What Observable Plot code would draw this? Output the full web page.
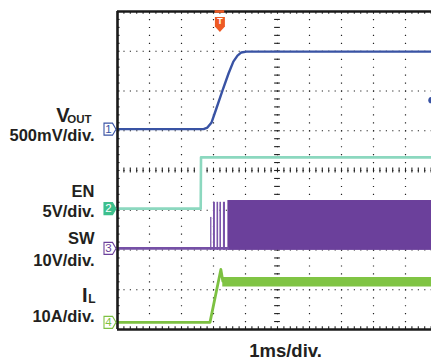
<!DOCTYPE html>
<html><head><meta charset="utf-8">
<script src="https://cdn.jsdelivr.net/npm/d3@7"></script>
<script src="https://cdn.jsdelivr.net/npm/@observablehq/plot@0.6"></script>
<style>
html,body{margin:0;padding:0;background:#fff}
#chart svg{display:block}
</style>
</head><body><div id="chart"></div>
<script>
// Time in ms (1 ms/div, screen centre = 0), amplitude in screen divisions (0 = bottom, 8 = top)
const voutTime = [-5, -2.31, -2.19, -2.06, -1.91, -1.72, -1.53, -1.38, -1.25, -1.13, -0.97, 4.8125];
const voutDiv  = [5.04, 5.04, 5.08, 5.21, 5.56, 6.01, 6.44, 6.74, 6.89, 6.97, 6.99, 6.99];

const enTime = [-5, -2.40, -2.39, 4.8125];
const enDiv  = [3.04, 3.04, 4.33, 4.33];

const swLowTime = [-5, -1.55];
const swLowDiv  = [2.04, 2.04];
const swSpikeStart = [-2.09, -2.00, -1.89, -1.80, -1.69];
const swSpikeEnd   = [-2.05, -1.94, -1.84, -1.75, -1.625];
const swSpikeTop   = [2.82, 3.20, 3.20, 3.20, 3.20];
const swBurstStart = [-1.55];
const swBurstEnd   = [4.8125];
const swBurstLow   = [1.99];
const swBurstHigh  = [3.245];

const ilTime = [-5, -2.11, -1.77, -1.71];
const ilDiv  = [0.18, 0.18, 1.51, 1.22];
const ilBandTime = [-1.71, 4.8125];
const ilBandLow  = [1.07, 1.07];
const ilBandHigh = [1.31, 1.31];

const chanNames  = ["1", "2", "3", "4"];
const chanLevels = [5.04, 3.04, 2.04, 0.18];
const chanColors = ["#3953a4", "#3dbf8d", "#6b409b", "#7dc142"];
const chanFilled = [false, true, false, false];

const triggerTime = [-1.80];
const ch1TrigLevel = [5.77];

const labelText   = ["500mV/div.", "EN", "5V/div.", "SW", "10V/div.", "10A/div."];
const labelLevel  = [4.87, 3.46, 2.96, 2.29, 1.74, 0.32];
const voutMain = ["V"],   voutMainLevel = [5.37];
const voutSub  = ["OUT"], voutSubLevel  = [5.30];
const ilMain   = ["I"],   ilMainLevel   = [0.86];
const ilSub    = ["L"],   ilSubLevel    = [0.76];
const timebaseText = ["1ms/div."];

const gridX = [-4, -3, -2, -1, 1, 2, 3, 4];
const gridY = [1, 2, 3, 5, 6, 7];
const minorX = d3.range(-5, 4.82, 0.2);
const minorY = d3.range(0, 8.01, 0.2);

const rows = (a, b, ka, kb) => a.map((v, i) => ({[ka]: v, [kb]: b[i]}));

const chanSymbol = {draw(ctx) {
  ctx.moveTo(-6.5, -6); ctx.lineTo(2, -6); ctx.lineTo(5.5, 0);
  ctx.lineTo(2, 6); ctx.lineTo(-6.5, 6); ctx.closePath();
}};
const trigSymbol = {draw(ctx) {
  ctx.moveTo(-5, -6.5); ctx.lineTo(5, -6.5); ctx.lineTo(5, 3);
  ctx.lineTo(0, 8.5); ctx.lineTo(-5, 3); ctx.closePath();
}};

const chans = chanNames.map((n, i) => ({n, v: chanLevels[i], c: chanColors[i], f: chanFilled[i]}));
const font = "'Liberation Sans', Arial, Helvetica, sans-serif";
const ink = "#231f20";
const lab = (arr, lev, dx, size) => Plot.text(arr.map((t, i) => ({t, v: lev[i]})),
  {x: () => -5, y: "v", dx, text: "t", textAnchor: "end", fontSize: size, fontWeight: "bold", fill: ink});

const plot = Plot.plot({
  width: 431, height: 363,
  marginLeft: 117, marginRight: 0, marginTop: 11, marginBottom: 34,
  x: {domain: [-5, 4.8125], axis: null},
  y: {domain: [0, 8], axis: null},
  style: {fontFamily: font, background: "#fff", overflow: "visible"},
  marks: [
    // dotted graticule
    Plot.ruleX(gridX, {stroke: "#222", strokeWidth: 1.2, strokeDasharray: "1.2 6.75"}),
    Plot.ruleY(gridY, {stroke: "#222", strokeWidth: 1.2, strokeDasharray: "1.2 5.2"}),
    Plot.ruleX([0], {stroke: "#222", strokeWidth: 1.2, strokeDasharray: "1.2 6.75"}),
    Plot.ruleY([4], {stroke: "#222", strokeWidth: 1.2, strokeDasharray: "1.2 5.2"}),
    // centre-line minor ticks
    Plot.ruleX(minorX, {x: d => d, y1: 3.94, y2: 4.06, stroke: "#222", strokeWidth: 1.1}),
    Plot.ruleY(minorY, {y: d => d, x1: -0.09, x2: 0.09, stroke: "#222", strokeWidth: 1.1}),
    // border minor ticks
    Plot.ruleX(minorX, {x: d => d, y1: 8, y2: 7.93, stroke: "#222", strokeWidth: 1.1}),
    Plot.ruleX(minorX, {x: d => d, y1: 0, y2: 0.07, stroke: "#222", strokeWidth: 1.1}),
    Plot.ruleY(minorY, {y: d => d, x1: -5, x2: -4.92, stroke: "#222", strokeWidth: 1.1}),

    // SW burst
    Plot.rect(swBurstStart.map((s, i) => ({x1: s, x2: swBurstEnd[i], y1: swBurstLow[i], y2: swBurstHigh[i]})),
      {x1: "x1", x2: "x2", y1: "y1", y2: "y2", fill: "#6b409b"}),
    Plot.rect(swSpikeStart.map((s, i) => ({x1: s, x2: swSpikeEnd[i], y1: swBurstLow[0], y2: swSpikeTop[i]})),
      {x1: "x1", x2: "x2", y1: "y1", y2: "y2", fill: "#7a55aa"}),
    Plot.line(rows(swLowTime, swLowDiv, "t", "v"), {x: "t", y: "v", stroke: "#7651a6", strokeWidth: 2.6}),

    // EN
    Plot.line(rows(enTime, enDiv, "t", "v"), {x: "t", y: "v", stroke: "#8cd8bf", strokeWidth: 2.6}),

    // IL
    Plot.areaY(ilBandTime.map((t, i) => ({t, lo: ilBandLow[i], hi: ilBandHigh[i]})),
      {x: "t", y1: "lo", y2: "hi", fill: "#80c444"}),
    Plot.line(rows(ilTime, ilDiv, "t", "v"), {x: "t", y: "v", stroke: "#7dc142", strokeWidth: 2.8}),

    // VOUT
    Plot.line(rows(voutTime, voutDiv, "t", "v"), {x: "t", y: "v", stroke: "#3953a4", strokeWidth: 2.4}),
    Plot.dot(ch1TrigLevel, {x: () => 4.8125, y: d => d, r: 3.2, fill: "#3953a4"}),

    // frame
    Plot.ruleX([-5], {stroke: "#1a1a1a", strokeWidth: 2.6}),
    Plot.ruleY([0, 8], {stroke: "#1a1a1a", strokeWidth: 2.6}),

    // trigger marker
    Plot.ruleY(triggerTime, {y: () => 8, x1: d => d - 0.15, x2: d => d + 0.15, stroke: "#ee5a24", strokeWidth: 2.6}),
    Plot.dot(triggerTime, {x: d => d, y: () => 8, dy: 12, symbol: trigSymbol, r: 5, fill: "#ee5a24", stroke: "none"}),
    Plot.text(triggerTime, {x: d => d, y: () => 8, dy: 10, text: () => "T", fill: "#fff", fontSize: 9, fontWeight: "bold"}),

    // channel markers
    Plot.dot(chans, {x: () => -5, y: "v", dx: -7, symbol: chanSymbol, r: 5,
      stroke: "c", fill: d => d.f ? d.c : "#fff", strokeWidth: 1.1}),
    Plot.text(chans, {x: () => -5, y: "v", dx: -9, text: "n", fill: d => d.f ? "#fff" : d.c, fontSize: 11.5}),

    // labels
    lab(labelText, labelLevel, -23, 16.5),
    lab(voutMain, voutMainLevel, -48, 20),
    lab(voutSub, voutSubLevel, -26, 11.5),
    lab(ilMain, ilMainLevel, -30, 20),
    lab(ilSub, ilSubLevel, -22, 12),
    Plot.text(timebaseText, {x: () => 0.25, y: () => -0.553, text: d => d, fontSize: 18.5, fontWeight: "bold", fill: ink})
  ]
});
document.getElementById("chart").append(plot);
</script>
</body></html>
